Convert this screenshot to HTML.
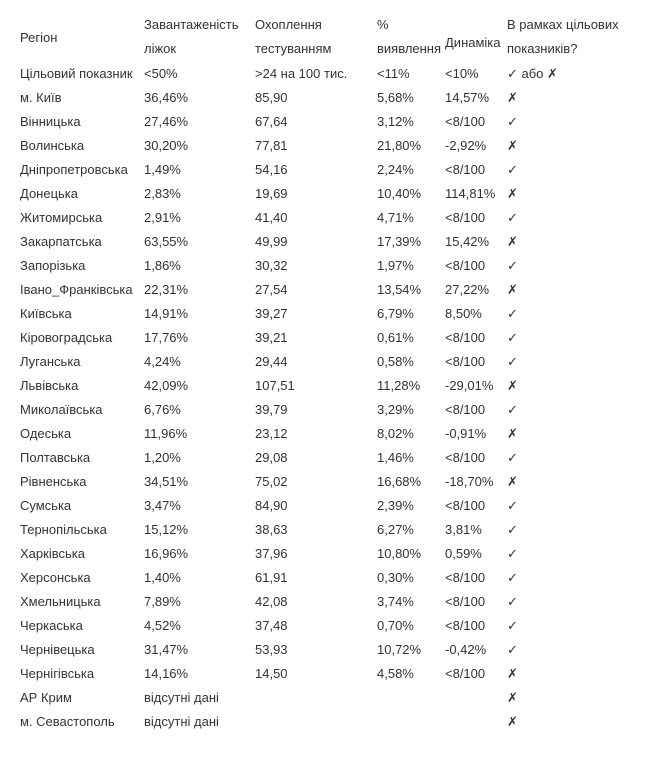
<!DOCTYPE html>
<html><head><meta charset="utf-8"><style>
body{margin:0;width:648px;height:760px;background:#fff;position:relative;font-family:"Liberation Sans",Arial,sans-serif;font-size:13px;color:#333;}
div.c{position:absolute;white-space:nowrap;line-height:16px;}
</style></head><body>
<script>
const cols=[20,144,255,377,445,507];
const H=[
[20,30,"Регіон"],[144,17,"Завантаженість"],[144,41,"ліжок"],[255,17,"Охоплення"],[255,41,"тестуванням"],
[377,17,"%"],[377,41,"виявлення"],[445,35,"Динаміка"],[507,17,"В рамках цільових"],[507,41,"показників?"]];
const rows=[
["Цільовий показник","<50%",">24 на 100 тис.","<11%","<10%","✓ або ✗"],
["м. Київ","36,46%","85,90","5,68%","14,57%","✗"],
["Вінницька","27,46%","67,64","3,12%","<8/100","✓"],
["Волинська","30,20%","77,81","21,80%","-2,92%","✗"],
["Дніпропетровська","1,49%","54,16","2,24%","<8/100","✓"],
["Донецька","2,83%","19,69","10,40%","114,81%","✗"],
["Житомирська","2,91%","41,40","4,71%","<8/100","✓"],
["Закарпатська","63,55%","49,99","17,39%","15,42%","✗"],
["Запорізька","1,86%","30,32","1,97%","<8/100","✓"],
["Івано_Франківська","22,31%","27,54","13,54%","27,22%","✗"],
["Київська","14,91%","39,27","6,79%","8,50%","✓"],
["Кіровоградська","17,76%","39,21","0,61%","<8/100","✓"],
["Луганська","4,24%","29,44","0,58%","<8/100","✓"],
["Львівська","42,09%","107,51","11,28%","-29,01%","✗"],
["Миколаївська","6,76%","39,79","3,29%","<8/100","✓"],
["Одеська","11,96%","23,12","8,02%","-0,91%","✗"],
["Полтавська","1,20%","29,08","1,46%","<8/100","✓"],
["Рівненська","34,51%","75,02","16,68%","-18,70%","✗"],
["Сумська","3,47%","84,90","2,39%","<8/100","✓"],
["Тернопільська","15,12%","38,63","6,27%","3,81%","✓"],
["Харківська","16,96%","37,96","10,80%","0,59%","✓"],
["Херсонська","1,40%","61,91","0,30%","<8/100","✓"],
["Хмельницька","7,89%","42,08","3,74%","<8/100","✓"],
["Черкаська","4,52%","37,48","0,70%","<8/100","✓"],
["Чернівецька","31,47%","53,93","10,72%","-0,42%","✓"],
["Чернігівська","14,16%","14,50","4,58%","<8/100","✗"],
["АР Крим","відсутні дані","","","","✗"],
["м. Севастополь","відсутні дані","","","","✗"]];
let h="";
for(const [x,y,t] of H)h+=`<div class="c" style="left:${x}px;top:${y}px">${t}</div>`;
rows.forEach((r,i)=>{const y=66+i*24;r.forEach((t,j)=>{if(t)h+=`<div class="c" style="left:${cols[j]}px;top:${y}px">${t.replace(/</g,"&lt;").replace(/>/g,"&gt;")}</div>`;});});
document.body.innerHTML=h;
</script>
</body></html>
